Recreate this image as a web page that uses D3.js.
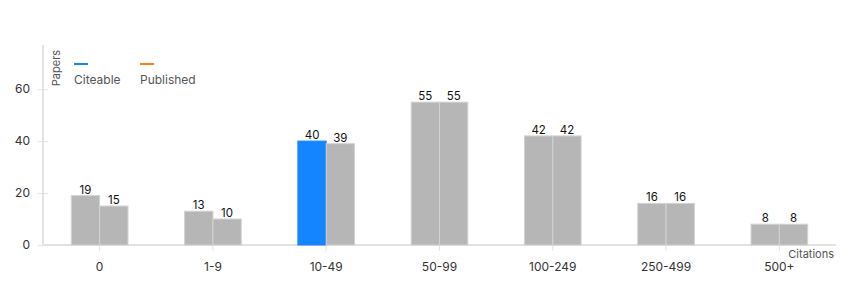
<!DOCTYPE html>
<html>
<head>
<meta charset="utf-8">
<script src="https://cdn.jsdelivr.net/npm/d3@7"></script>
<style>
  body { margin: 0; background: #fff; }
  svg text { font-family: Inter, "Noto Sans", sans-serif; }
</style>
</head>
<body>
<div id="chart"></div>
<script>

// --------------------------------------------------------
// (1) Data
// --------------------------------------------------------

var categories = ["0", "1-9", "10-49", "50-99", "100-249", "250-499", "500+"]
var citeable = [19, 13, 40, 55, 42, 16, 8]
var published = [15, 10, 39, 55, 42, 16, 8]
var seriesNames = ["Citeable", "Published"]
var yTicks = [0, 20, 40, 60]
var highlighted = "10-49"

// --------------------------------------------------------
// (2) Sizes
// --------------------------------------------------------

var svg_width = 850
var svg_height = 288

const margin = { top: 45, right: 14, bottom: 43, left: 43 }

var width = svg_width - (margin.left + margin.right)
var height = svg_height - (margin.top + margin.bottom)

var colors = { Citeable: "#1585ff", Published: "#ff7f0e" }

// --------------------------------------------------------
// (3) Chart
// --------------------------------------------------------

const svg = d3.select("#chart")
  .append("svg")
    .attr("width", svg_width)
    .attr("height", svg_height)
  .append("g")
    .attr("transform", `translate(${margin.left}, ${margin.top})`)

const rows = categories.map((c, i) => ({ cat: c, Citeable: citeable[i], Published: published[i] }))

const x = d3.scaleBand()
  .domain(categories)
  .range([0, width])
  .paddingInner(0.5)
  .paddingOuter(0.25)

const x1 = d3.scaleBand()
  .domain(seriesNames)
  .range([0, x.bandwidth()])

const y = d3.scaleLinear()
  .domain([0, 77])
  .range([height, 0])

// y axis
const yAxis = svg.append("g")
  .call(d3.axisLeft(y).tickValues(yTicks).tickSize(5).tickPadding(8))
yAxis.select(".domain").attr("stroke", "#e1e1e6").attr("stroke-width", 2)
  .attr("d", `M0,${height}V0`)
yAxis.selectAll(".tick line").attr("stroke", "#e1e1e6").attr("x1", 5)
yAxis.selectAll(".tick text").attr("fill", "#333").style("font-size", "12px")

// x axis
const xAxis = svg.append("g")
  .attr("transform", `translate(0, ${height})`)
  .call(d3.axisBottom(x).tickSize(6).tickPadding(11))
xAxis.select(".domain").attr("stroke", "#e1e1e6").attr("stroke-width", 2)
  .attr("d", `M0,0H${width}`)
xAxis.selectAll(".tick line").attr("stroke", "#e1e1e6")
xAxis.selectAll(".tick text").attr("fill", "#333").style("font-size", "12px")

// bars
const groups = svg.selectAll(".grp")
  .data(rows)
  .join("g")
    .attr("transform", d => `translate(${x(d.cat)}, 0)`)

const bars = groups.selectAll("g")
  .data(d => seriesNames.map(s => ({ cat: d.cat, key: s, value: d[s] })))
  .join("g")

bars.append("rect")
  .attr("x", d => x1(d.key))
  .attr("y", d => y(d.value))
  .attr("width", x1.bandwidth())
  .attr("height", d => height - y(d.value))
  .attr("fill", d => (d.cat === highlighted && d.key === "Citeable") ? "#1585ff" : "#b6b6b6")
  .attr("stroke", d => (d.cat === highlighted && d.key === "Citeable") ? "#1585ff" : "#d2d2d2")
  .attr("stroke-width", 1)

bars.append("text")
  .attr("x", d => x1(d.key) + x1.bandwidth() / 2)
  .attr("y", d => y(d.value) - 2)
  .attr("text-anchor", "middle")
  .style("font-size", "11.5px")
  .attr("fill", "#111")
  .text(d => d.value)

// axis titles
svg.append("text")
  .attr("transform", `translate(17, 0) rotate(-90)`)
  .attr("x", -23)
  .attr("text-anchor", "middle")
  .style("font-size", "11px")
  .attr("fill", "#555")
  .text("Papers")

svg.append("text")
  .attr("x", width - 2)
  .attr("y", height + 13)
  .attr("text-anchor", "end")
  .style("font-size", "11px")
  .attr("fill", "#555")
  .text("Citations")

// legend
const legend = svg.selectAll(".legend")
  .data(seriesNames)
  .join("g")
    .attr("transform", (d, i) => `translate(${31 + i * 66}, 19)`)

legend.append("line")
  .attr("x1", 0).attr("x2", 14)
  .attr("y1", 0).attr("y2", 0)
  .attr("stroke", d => colors[d])
  .attr("stroke-width", 2)

legend.append("text")
  .attr("x", 0)
  .attr("y", 20)
  .style("font-size", "12px")
  .attr("fill", "#555")
  .text(d => d)

</script>
</body>
</html>
